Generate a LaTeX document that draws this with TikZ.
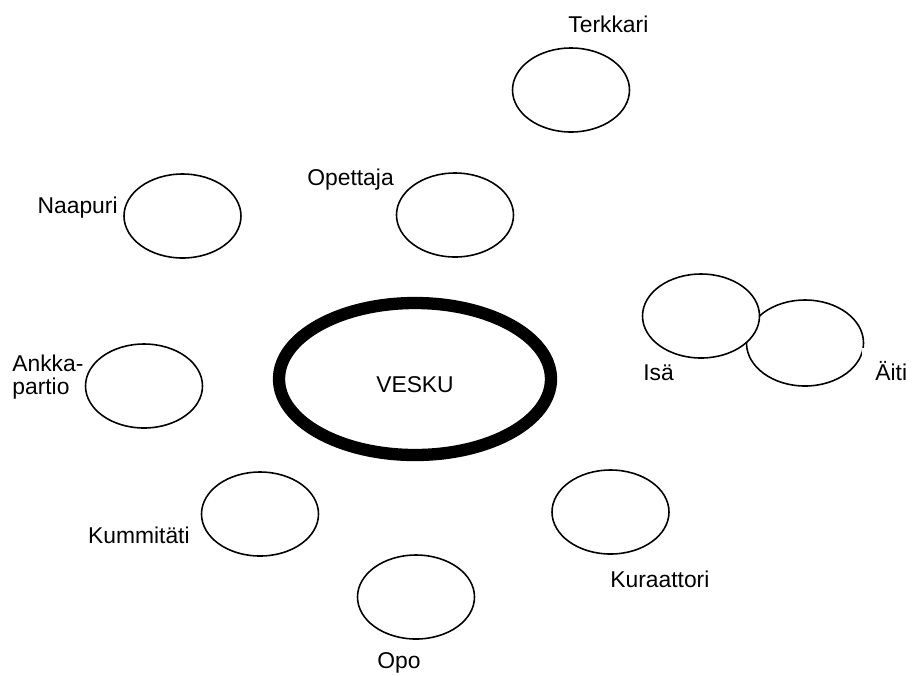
\documentclass[tikz,border=0pt]{standalone}
\usepackage{fontspec}
\setmainfont{Liberation Sans}
\usetikzlibrary{shapes.geometric}
\tikzset{
  henkilo/.style={draw,ellipse,fill=white,line width=0.9pt,minimum width=2.34cm,minimum height=1.68cm,inner sep=0pt},
  keskus/.style={draw,ellipse,line width=7pt,minimum width=5.44cm,minimum height=3.04cm,inner sep=0pt},
  nimi/.style={inner sep=0pt,font=\fontsize{13}{13}\selectfont}
}
\begin{document}
\begin{tikzpicture}
			\useasboundingbox (0,0) rectangle (18.36,-13.5);
			% ympyrat
			\node[keskus] (vesku) at (8.30,-7.58) {};
			\node[henkilo] (terkkari) at (11.42,-1.80) {};
			\node[henkilo] (opettaja) at (9.10,-4.30) {};
			\node[henkilo] (naapuri) at (3.65,-4.32) {};
			\node[henkilo] (ankka) at (2.88,-7.72) {};
			\node[henkilo,minimum height=1.72cm] (aiti) at (16.10,-6.86) {};
			\node[henkilo] (isa) at (14.02,-6.32) {};
			\node[henkilo] (kummi) at (5.20,-10.28) {};
			\node[henkilo] (opo) at (8.32,-11.94) {};
			\node[henkilo] (kuraattori) at (12.21,-10.24) {};
			% nimet
			\node[nimi] (veskuT) at (8.30,-7.69) {VESKU};
			\node[nimi,anchor=base west] (terkkariT) at (11.36,-0.64) {Terkkari};
			\node[nimi,anchor=base west] (opettajaT) at (6.14,-3.70) {Opettaja};
			\node[nimi,anchor=base east] (naapuriT) at (2.36,-4.26) {Naapuri};
			\node[nimi,anchor=north west,align=left] (ankkaT) at (0.24,-7.10) {Ankka-\\partio};
			\node[nimi,anchor=base west] (isaT) at (12.86,-7.60) {Isä};
			\node[nimi,anchor=base west,fill=white,inner sep=0.26cm] (aitiT) at (17.24,-7.60) {Äiti};
			\node[nimi,anchor=base east] (kummiT) at (3.80,-10.86) {Kummitäti};
			\node[nimi,anchor=base west] (opoT) at (7.54,-13.36) {Opo};
			\node[nimi,anchor=base west] (kuraattoriT) at (12.20,-11.74) {Kuraattori};
		\end{tikzpicture}
\end{document}
